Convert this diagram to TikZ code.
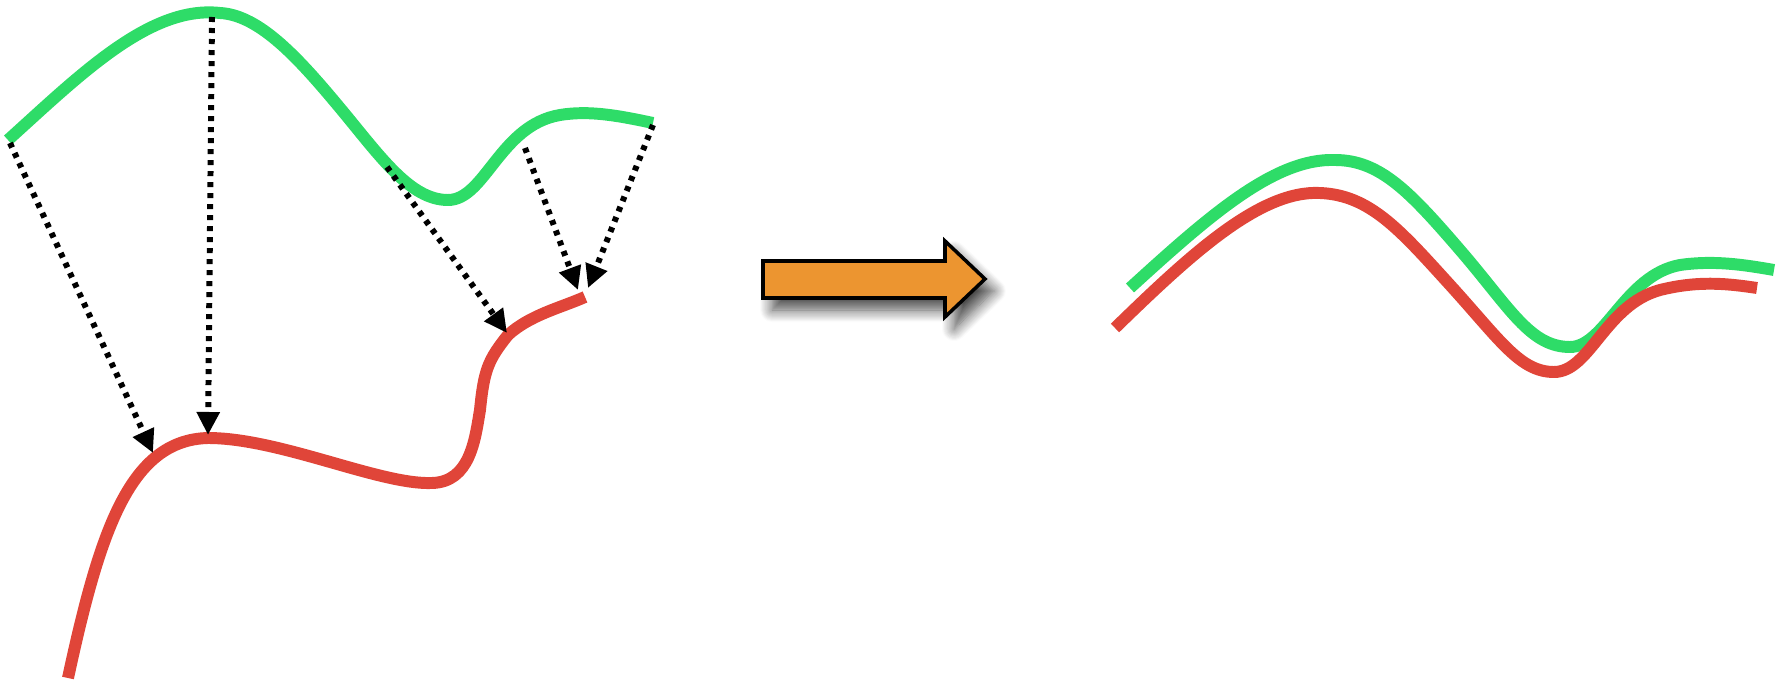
\documentclass[tikz,border=0pt]{standalone}
\usetikzlibrary{arrows.meta, shadows.blur}

\definecolor{hijau}{HTML}{2EDC68}
\definecolor{merah}{HTML}{E04539}
\definecolor{oranye}{HTML}{EC9530}

\begin{document}
\begin{tikzpicture}[
			x=0.01cm, y=-0.01cm,
			% Gaya untuk kurva
			kurvahijau/.style={
				draw=hijau, 
				line width=3.4pt
			},
			kurvamerah/.style={
				draw=merah, 
				line width=3.4pt
			},
			% Gaya untuk panah titik-titik
			proyeksi/.style={
				-{Triangle[length=2.3mm, width=2.2mm]}, 
				line width=1.7pt, 
				dash pattern=on 0.05cm off 0.06cm
			},
			% Gaya untuk panah besar
			panahbesar/.style={
				fill=oranye, 
				draw=black, 
				line width=1pt,
				blur shadow={shadow xshift=0.09cm, shadow yshift=-0.12cm, shadow blur radius=0.12cm, shadow blur steps=12, shadow opacity=70}
			}
			]
			
			\useasboundingbox (0,0) rectangle (1787,685);
			
			% Kurva kiri
			\draw[kurvahijau] (8,140) .. controls (80,75) and (150,5) .. (220,13)
				.. controls (260,15) and (300,60) .. (340,108)
				.. controls (380,156) and (410,200) .. (448,200)
				.. controls (485,200) and (500,125) .. (560,115)
				.. controls (590,110) and (620,116) .. (653,123);
			\draw[kurvamerah] (68,678) .. controls (100,530) and (130,440) .. (208,438)
				.. controls (280,438) and (380,485) .. (432,483)
				.. controls (470,482) and (475,440) .. (480,410)
				.. controls (484,370) and (488,360) .. (508,335)
				.. controls (530,315) and (560,308) .. (585,297);
			
			% Titik awal dan akhir proyeksi
			\coordinate (a1) at (10,143);
			\coordinate (b1) at (153,453);
			\coordinate (a2) at (212,17);
			\coordinate (b2) at (208,435);
			\coordinate (a3) at (387,167);
			\coordinate (b3) at (507,333);
			\coordinate (a4) at (525,148);
			\coordinate (b4) at (578,290);
			\coordinate (a5) at (653,125);
			\coordinate (b5) at (588,288);
			
			% Panah proyeksi
			\draw[proyeksi] (a1) -- (b1);
			\draw[proyeksi] (a2) -- (b2);
			\draw[proyeksi] (a3) -- (b3);
			\draw[proyeksi] (a4) -- (b4);
			\draw[proyeksi] (a5) -- (b5);
			
			% Panah besar
			\draw[panahbesar] (763,261) -- (945,261) -- (945,241) -- (985,279) -- (945,317) -- (945,298) -- (763,298) -- cycle;
			
			% Kurva kanan
			\draw[kurvahijau] (1130,288) .. controls (1210,215) and (1275,158) .. (1335,160)
				.. controls (1380,160) and (1410,192) .. (1460,250)
				.. controls (1510,308) and (1530,347) .. (1570,347)
				.. controls (1605,347) and (1625,275) .. (1680,265)
				.. controls (1715,260) and (1745,265) .. (1774,270);
			\draw[kurvamerah] (1115,328) .. controls (1190,255) and (1260,190) .. (1320,193)
				.. controls (1370,195) and (1400,230) .. (1450,285)
				.. controls (1500,340) and (1520,372) .. (1554,372)
				.. controls (1590,372) and (1605,305) .. (1660,290)
				.. controls (1700,280) and (1730,284) .. (1757,288);
			
		\end{tikzpicture}
\end{document}
